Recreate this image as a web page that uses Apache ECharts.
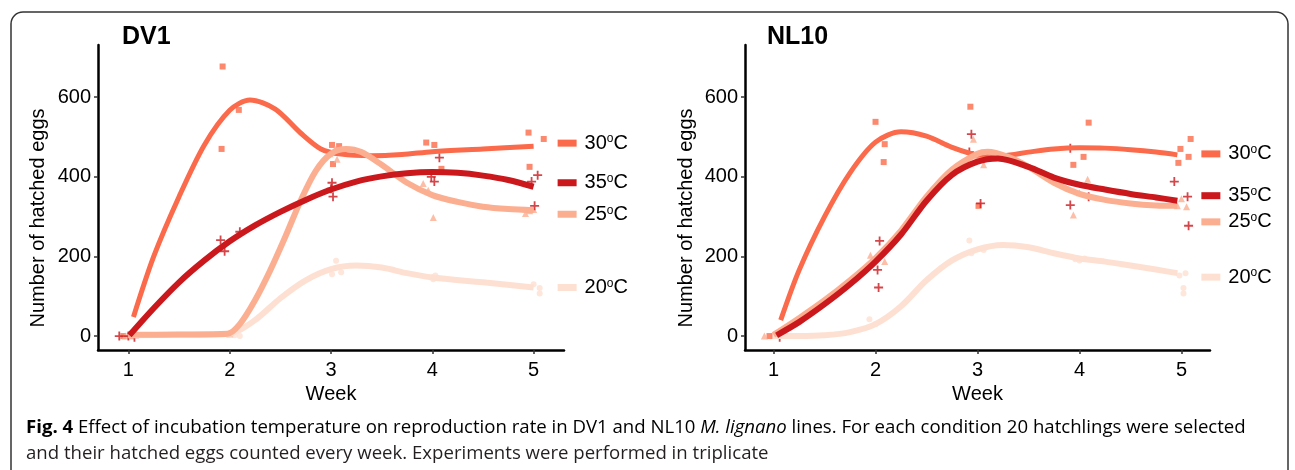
<!DOCTYPE html>
<html>
<head>
<meta charset="utf-8">
<script src="https://cdn.jsdelivr.net/npm/echarts@6/dist/echarts.min.js"></script>
<style>
html,body{margin:0;padding:0;background:#fff;}
#chart{width:1295px;height:470px;}
</style>
</head>
<body>
<div id="chart"></div>
<script>
// ---------- data ----------
const PANELS = ['DV1', 'NL10'];
const TEMPS = ['20', '25', '30', '35'];
const WEEK_TICKS = [1, 2, 3, 4, 5];
const Y_TICKS = [0, 200, 400, 600];

// smoothed trend lines: [week, hatched eggs]
const FIT_DV1_20 = [[1.0,2],[1.5,3],[2.0,6],[2.25,40],[2.5,95],[2.75,140],[3.0,168],[3.25,177],[3.5,172],[3.75,158],[4.0,147],[4.5,135],[5.0,122]];
const FIT_DV1_25 = [[1.0,3],[1.5,4],[1.98,6],[2.1,30],[2.25,90],[2.4,165],[2.55,250],[2.7,340],[2.85,415],[3.0,458],[3.15,470],[3.3,462],[3.5,430],[3.75,385],[4.0,354],[4.25,337],[4.5,325],[4.75,319],[5.0,316]];
const FIT_DV1_30 = [[1.05,48],[1.25,200],[1.5,350],[1.75,480],[2.0,567],[2.2,593],[2.45,570],[2.7,510],[2.9,470],[3.1,457],[3.4,453],[3.7,456],[4.0,463],[4.5,470],[5.0,477]];
const FIT_DV1_35 = [[1.01,2],[1.25,70],[1.5,135],[1.75,190],[2.0,238],[2.25,278],[2.5,312],[2.75,342],[3.0,368],[3.25,388],[3.5,401],[3.75,409],[4.0,412],[4.25,410],[4.5,403],[4.75,392],[5.0,375]];

const FIT_NL10_20 = [[1.0,0],[1.25,0],[1.5,2],[1.75,10],[2.0,30],[2.25,75],[2.5,140],[2.75,190],[3.0,218],[3.25,229],[3.5,223],[3.75,208],[4.0,195],[4.25,187],[4.5,177],[4.75,167],[4.96,158]];
const FIT_NL10_25 = [[1.0,3],[1.25,45],[1.5,90],[1.75,140],[2.0,196],[2.25,265],[2.5,350],[2.75,418],[3.0,458],[3.1,463],[3.3,450],[3.5,425],[3.75,385],[4.0,357],[4.25,342],[4.5,333],[4.75,328],[4.96,327]];
const FIT_NL10_30 = [[1.07,40],[1.25,165],[1.5,300],[1.75,410],[2.0,487],[2.25,513],[2.5,502],[2.75,474],[3.0,455],[3.25,453],[3.5,462],[3.75,470],[4.0,473],[4.25,472],[4.5,468],[4.75,462],[4.96,455]];
const FIT_NL10_35 = [[1.03,2],[1.25,35],[1.5,80],[1.75,130],[2.0,187],[2.25,255],[2.5,340],[2.75,405],[3.0,438],[3.2,446],[3.5,425],[3.75,398],[4.0,380],[4.25,368],[4.5,357],[4.75,348],[4.96,340]];

// replicate counts (jittered in week as in the picture)
const PTS_DV1_20 = [[1.02,0],[2.10,0],[2.05,2],[3.05,189],[3.01,155],[3.10,160],[4.03,152],[4.01,143],[4.0,148],[5.0,130],[5.06,121],[5.06,107]];
const PTS_DV1_25 = [[0.97,0],[1.03,0],[2.0,5],[3.06,444],[2.99,458],[3.04,470],[3.91,383],[3.96,366],[4.01,298],[4.92,308],[4.96,315],[5.0,318]];
const PTS_DV1_30 = [[0.95,0],[1.93,677],[2.09,568],[1.92,470],[3.01,480],[3.08,477],[3.02,432],[3.94,486],[4.02,480],[4.09,420],[4.95,511],[5.10,495],[4.96,425]];
const PTS_DV1_35 = [[0.91,0],[1.06,-3],[1.0,0],[1.91,241],[1.95,213],[2.10,262],[3.01,385],[3.02,350],[3.0,370],[4.07,448],[3.99,400],[4.02,388],[5.04,404],[4.98,388],[5.01,327]];

const PTS_NL10_20 = [[1.0,0],[1.94,42],[2.0,30],[2.92,240],[2.94,208],[3.06,216],[3.96,193],[4.05,195],[4.0,190],[4.98,152],[5.04,158],[5.02,121],[5.02,107]];
const PTS_NL10_25 = [[0.91,0],[1.95,203],[2.09,187],[2.0,195],[2.96,494],[3.06,430],[3.0,450],[4.08,394],[3.94,304],[4.0,360],[5.05,325],[4.96,327],[5.0,345]];
const PTS_NL10_30 = [[0.96,0],[2.0,538],[2.09,482],[2.08,437],[2.93,576],[3.01,327],[2.97,455],[4.09,536],[4.04,450],[3.94,430],[5.09,495],[4.99,470],[5.07,450],[4.97,435]];
const PTS_NL10_35 = [[1.06,-3],[2.04,239],[2.02,166],[2.03,122],[2.94,507],[3.03,333],[2.92,462],[3.91,329],[4.09,350],[3.91,472],[4.93,388],[5.06,350],[5.07,277]];

const CAPTION_BOLD = 'Fig. 4';
const CAPTION_1A = ' Effect of incubation temperature on reproduction rate in DV1 and NL10 ';
const CAPTION_ITAL = 'M. lignano';
const CAPTION_1B = ' lines. For each condition 20 hatchlings were selected';
const CAPTION_2 = 'and their hatched eggs counted every week. Experiments were performed in triplicate';

// ---------- styling ----------
const FONT = 'Liberation Sans, Arial, sans-serif';
const CAP_FONT = 'Open Sans';
const CAP_SIZE = 18.6;
const COLORS = { '20': '#FEE0D2', '25': '#FCAE91', '30': '#FB6A4A', '35': '#CB181D' };
const PLUS = 'path://M4,0L6,0L6,4L10,4L10,6L6,6L6,10L4,10L4,6L0,6L0,4L4,4Z';
const SYMBOLS = { '20': ['circle', 6], '25': ['triangle', 7], '30': ['rect', 6], '35': [PLUS, 9] };
const FITS = { DV1: { '20': FIT_DV1_20, '25': FIT_DV1_25, '30': FIT_DV1_30, '35': FIT_DV1_35 },
               NL10: { '20': FIT_NL10_20, '25': FIT_NL10_25, '30': FIT_NL10_30, '35': FIT_NL10_35 } };
const PTS = { DV1: { '20': PTS_DV1_20, '25': PTS_DV1_25, '30': PTS_DV1_30, '35': PTS_DV1_35 },
              NL10: { '20': PTS_NL10_20, '25': PTS_NL10_25, '30': PTS_NL10_30, '35': PTS_NL10_35 } };
const LABEL_DY = { DV1: { '20': 0, '25': 4, '30': -3, '35': -4 }, NL10: { '20': 4, '25': 16, '30': -1, '35': -5 } };
const DRAW_ORDER = ['20', '30', '25', '35'];

const grids = [
  { left: 98, width: 466, top: 45, bottom: 120 },
  { left: 745, width: 465, top: 45, bottom: 120 }
];
const xRanges = [[0.7, 5.3], [0.72, 5.28]];

const xAxes = PANELS.map((p, i) => ({
  gridIndex: i, type: 'value', min: xRanges[i][0], max: xRanges[i][1],
  axisLine: { show: true, onZero: false, lineStyle: { color: '#000', width: 2.5 } },
  axisTick: { show: true, length: 4, customValues: WEEK_TICKS, lineStyle: { color: '#333', width: 1.5 } },
  axisLabel: { customValues: WEEK_TICKS, fontSize: 20, color: '#000', fontFamily: FONT, margin: 10 },
  splitLine: { show: false },
  name: 'Week', nameLocation: 'middle', nameGap: 33,
  nameTextStyle: { fontSize: 20, color: '#000', fontFamily: FONT, verticalAlign: 'top' }
}));
const yAxes = PANELS.map((p, i) => ({
  gridIndex: i, type: 'value', min: -35, max: 731,
  axisLine: { show: true, onZero: false, lineStyle: { color: '#000', width: 2.5 } },
  axisTick: { show: true, length: 4, customValues: Y_TICKS, lineStyle: { color: '#333', width: 1.5 } },
  axisLabel: { customValues: Y_TICKS, fontSize: 20, color: '#000', fontFamily: FONT, margin: 7 },
  splitLine: { show: false }
}));

const series = [];
PANELS.forEach((p, i) => {
  DRAW_ORDER.forEach(t => {
    series.push({
      type: 'scatter', xAxisIndex: i, yAxisIndex: i, data: PTS[p][t],
      symbol: SYMBOLS[t][0], symbolSize: SYMBOLS[t][1], itemStyle: { color: COLORS[t] },
      silent: true, z: 2
    });
  });
  DRAW_ORDER.forEach((t, k) => {
    series.push({
      type: 'line', xAxisIndex: i, yAxisIndex: i, data: FITS[p][t], smooth: 0.3,
      showSymbol: false, lineStyle: { color: COLORS[t], width: t === '30' ? 5 : 6, cap: 'butt', join: 'round' },
      z: 3 + k, silent: true,
      endLabel: {
        show: true, position: 'right', distance: 0, offset: [24, LABEL_DY[p][t]],
        formatter: '{k|}{t|' + t + '}{s|o}{c|C}',
        rich: {
          k: { width: 19, height: 7, backgroundColor: COLORS[t] },
          t: { fontSize: 20, color: '#000', fontFamily: FONT, padding: [0, 0, 0, 8] },
          s: { fontSize: 12, color: '#000', fontFamily: FONT, verticalAlign: 'top', padding: [0, 0, 0, 0] },
          c: { fontSize: 20, color: '#000', fontFamily: FONT }
        }
      }
    });
  });
});

const graphic = [
  { type: 'rect', shape: { x: 11, y: 12, width: 1277, height: 470, r: 12 }, style: { fill: 'none', stroke: '#333', lineWidth: 1.5 }, silent: true },
  { type: 'text', x: 122, y: 37, style: { text: PANELS[0], font: 'bold 25px ' + FONT, fill: '#000', textVerticalAlign: 'middle' } },
  { type: 'text', x: 767, y: 37, style: { text: PANELS[1], font: 'bold 25px ' + FONT, fill: '#000', textVerticalAlign: 'middle' } },
  { type: 'text', x: 38, y: 218, rotation: Math.PI / 2, style: { text: 'Number of hatched eggs', font: '20px ' + FONT, fill: '#000', textAlign: 'center', textVerticalAlign: 'middle' } },
  { type: 'text', x: 686, y: 218, rotation: Math.PI / 2, style: { text: 'Number of hatched eggs', font: '20px ' + FONT, fill: '#000', textAlign: 'center', textVerticalAlign: 'middle' } },
  { type: 'text', x: 26, y: 428, style: {
      text: '{b|' + CAPTION_BOLD + '}{r|' + CAPTION_1A + '}{i|' + CAPTION_ITAL + '}{r|' + CAPTION_1B + '}',
      textVerticalAlign: 'middle',
      rich: {
        b: { fontFamily: CAP_FONT, fontWeight: 'bold', fontSize: CAP_SIZE, color: '#231F20' },
        r: { fontFamily: CAP_FONT, fontSize: CAP_SIZE, color: '#231F20' },
        i: { fontFamily: CAP_FONT, fontStyle: 'italic', fontSize: CAP_SIZE, color: '#231F20' }
      } } },
  { type: 'text', x: 26, y: 454, style: { text: CAPTION_2, font: CAP_SIZE + 'px ' + CAP_FONT, fill: '#231F20', textVerticalAlign: 'middle' } }
];

const chart = echarts.init(document.getElementById('chart'), null, { renderer: 'canvas' });
chart.setOption({
  animation: false,
  backgroundColor: '#fff',
  grid: grids,
  xAxis: xAxes,
  yAxis: yAxes,
  series: series,
  graphic: graphic
});
</script>
</body>
</html>
